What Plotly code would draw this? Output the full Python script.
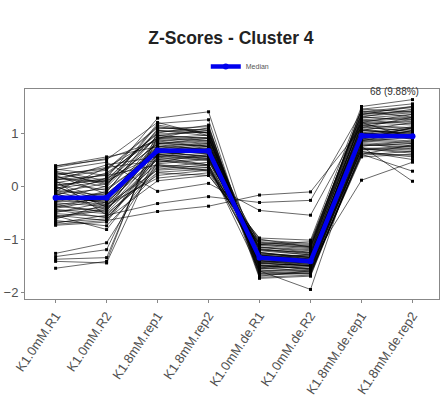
import plotly.graph_objects as go

categories = ["K1.0mM.R1", "K1.0mM.R2", "K1.8mM.rep1", "K1.8mM.rep2",
              "K1.0mM.de.R1", "K1.0mM.de.R2", "K1.8mM.de.rep1", "K1.8mM.de.rep2"]

profiles = [
    [-1.27, -1.07, 0.45, 0.52, -1.30, -1.38, 1.05, 1.00],
    [-1.33, -1.20, 0.80, 0.75, -1.45, -1.50, 1.30, 1.25],
    [-1.38, -1.35, 0.95, 0.90, -1.20, -1.25, 1.45, 1.40],
    [-1.42, -1.45, 0.62, 0.70, -1.10, -1.15, 1.20, 1.35],
    [-1.55, -1.42, 1.05, 1.00, -1.35, -1.40, 1.15, 1.10],
    [-0.72, -0.65, -0.48, -0.38, -0.17, -0.11, 1.10, 1.30],
    [0.10, -0.55, -0.33, -0.20, -0.31, -0.27, 1.40, 1.50],
    [0.30, 0.45, -0.10, 0.05, -0.46, -0.55, 1.20, 0.90],
    [-0.05, 0.10, 0.55, 0.40, -1.60, -1.95, 0.85, 1.05],
    [0.20, 0.35, 0.90, 1.10, -1.55, -1.50, 0.75, 0.09],
    [0.38, 0.50, 1.20, 0.95, -1.70, -1.60, 0.60, 0.28],
    [0.00, 0.15, 1.28, 1.40, -1.50, -1.45, 0.11, 0.45],
    [-0.22, -0.20, 0.67, 0.65, -1.35, -1.42, 0.95, 0.93],
    [0.25, 0.05, 0.80, 0.85, -1.50, -1.55, 0.70, 0.75],
    [-0.60, -0.45, 0.50, 0.55, -1.20, -1.30, 1.25, 1.30],
    [-0.10, -0.35, 0.30, 0.35, -1.10, -1.05, 1.35, 1.50],
    [0.15, 0.30, 1.10, 1.05, -1.65, -1.62, 0.55, 0.60],
    [-0.45, -0.60, 0.40, 0.30, -1.00, -1.15, 1.45, 1.55],
    [-0.30, -0.10, 0.95, 0.90, -1.40, -1.48, 0.85, 0.80],
    [0.05, -0.25, 0.70, 0.80, -1.55, -1.40, 1.00, 0.95],
    [-0.65, -0.75, 0.25, 0.20, -0.98, -1.02, 1.50, 1.63],
    [0.32, 0.20, 1.00, 1.15, -1.72, -1.68, 0.65, 0.55],
    [-0.15, -0.05, 0.60, 0.50, -1.30, -1.35, 1.10, 1.05],
    [-0.50, -0.30, 0.85, 0.75, -1.25, -1.38, 0.90, 1.10],
    [0.10, 0.40, 0.55, 0.70, -1.45, -1.50, 0.80, 0.70],
    [-0.35, -0.50, 0.45, 0.60, -1.15, -1.25, 1.20, 1.15],
    [-0.25, 0.00, 1.15, 1.00, -1.60, -1.55, 0.75, 0.85],
    [0.20, -0.15, 0.65, 0.55, -1.35, -1.30, 0.95, 1.00],
    [-0.70, -0.55, 0.35, 0.45, -1.05, -1.10, 1.35, 1.40],
    [-0.05, 0.25, 0.90, 0.85, -1.48, -1.58, 0.70, 0.65],
    [-0.40, -0.20, 0.75, 0.70, -1.30, -1.45, 1.00, 0.90],
    [0.00, -0.40, 0.20, 0.30, -1.15, -1.20, 1.30, 1.45],
    [-0.55, -0.65, 0.60, 0.65, -1.25, -1.35, 1.15, 1.25],
    [0.28, 0.10, 1.05, 0.95, -1.58, -1.62, 0.60, 0.78],
    [-0.20, -0.30, 0.50, 0.40, -1.28, -1.32, 1.05, 1.20],
    [-0.12, 0.05, 0.80, 0.90, -1.42, -1.45, 0.88, 0.82],
    [-0.48, -0.40, 0.70, 0.60, -1.18, -1.28, 1.12, 1.02],
    [0.12, 0.20, 0.40, 0.35, -1.38, -1.40, 0.98, 1.12],
    [-0.28, -0.12, 1.08, 1.12, -1.52, -1.48, 0.68, 0.72],
    [-0.62, -0.35, 0.15, 0.25, -1.08, -1.12, 1.42, 1.30],
    [0.08, -0.08, 0.62, 0.75, -1.40, -1.52, 0.92, 0.98],
    [-0.38, -0.48, 0.88, 0.80, -1.32, -1.38, 1.02, 0.88],
    [-0.18, 0.15, 0.58, 0.48, -1.45, -1.42, 0.90, 0.85],
    [0.18, -0.02, 0.95, 1.05, -1.62, -1.58, 0.72, 0.68],
    [-0.52, -0.58, 0.32, 0.40, -1.12, -1.18, 1.28, 1.35],
    [-0.08, -0.18, 0.72, 0.62, -1.36, -1.44, 0.96, 1.08],
    [-0.32, -0.38, 0.68, 0.72, -1.22, -1.30, 1.08, 0.96],
    [0.22, 0.32, 1.12, 1.00, -1.68, -1.65, 0.62, 0.58],
    [-0.42, -0.25, 0.52, 0.58, -1.26, -1.34, 1.18, 1.22],
    [-0.02, -0.28, 0.78, 0.68, -1.44, -1.40, 0.84, 0.92],
    [-0.68, -0.62, 0.10, 0.20, -1.02, -1.08, 1.38, 1.48],
    [0.35, 0.52, 0.85, 0.92, -1.74, -1.70, 0.65, 0.50],
    [-0.26, -0.15, 0.64, 0.55, -1.34, -1.36, 0.94, 1.04],
    [-0.58, -0.42, 0.42, 0.50, -1.16, -1.22, 1.22, 1.28],
    [0.02, 0.12, 1.02, 1.08, -1.56, -1.52, 0.78, 0.74],
    [-0.16, -0.32, 0.66, 0.78, -1.38, -1.46, 0.98, 0.90],
    [-0.44, -0.52, 0.26, 0.32, -1.06, -1.14, 1.32, 1.38],
    [0.14, 0.08, 0.92, 0.86, -1.50, -1.56, 0.82, 0.76],
    [-0.36, -0.22, 0.74, 0.66, -1.30, -1.40, 1.04, 1.00],
    [-0.10, 0.35, 0.48, 0.38, -1.42, -1.38, 0.88, 1.10],
    [-0.74, -0.68, 0.55, 0.62, -1.20, -1.26, 1.24, 1.18],
    [0.26, 0.02, 1.18, 1.25, -1.66, -1.64, 0.58, 0.66],
    [-0.24, -0.36, 0.82, 0.74, -1.32, -1.42, 1.06, 0.94],
    [-0.56, -0.82, 0.38, 0.28, -1.10, -1.16, 1.36, 1.42],
    [0.06, 0.22, 0.98, 1.02, -1.54, -1.60, 0.76, 0.80],
    [-0.14, -0.45, 0.60, 0.52, -1.28, -1.34, 1.14, 1.08],
    [0.38, 0.55, 0.74, 0.82, -1.62, -1.66, 0.70, 0.62],
    [-0.30, -0.26, 0.90, 0.96, -1.46, -1.50, 0.86, 0.95],
]

median = [-0.22, -0.22, 0.67, 0.66, -1.35, -1.42, 0.95, 0.94]

cluster_label = "68 (9.88%)"
y_ticks = [-2, -1, 0, 1]

xs, ys = [], []
for row in profiles:
    xs.extend(categories + [None])
    ys.extend(row + [None])

fig = go.Figure()
fig.add_trace(go.Scatter(
    x=xs, y=ys, mode="lines+markers", connectgaps=False,
    line=dict(color="black", width=0.6),
    marker=dict(color="black", size=3, symbol="square"),
    showlegend=False, hoverinfo="skip"))
fig.add_trace(go.Scatter(
    x=categories, y=median, mode="lines+markers", name="Median",
    line=dict(color="#0000ee", width=4.5),
    marker=dict(color="#0000ee", size=6)))

fig.add_annotation(x=1, xref="paper", xanchor="right", xshift=-18,
                   y=1, yref="paper", yanchor="middle", yshift=-2,
                   text=cluster_label, showarrow=False,
                   font=dict(size=10, color="#333333"))

fig.update_layout(
    width=444, height=401,
    margin=dict(l=21, r=4, t=89, b=98),
    paper_bgcolor="white", plot_bgcolor="white",
    font=dict(family="Liberation Sans, Arial, sans-serif", color="#555555"),
    title=dict(text="<b>Z-Scores - Cluster 4</b>", x=0.52, xanchor="center",
               y=0.905, yanchor="middle",
               font=dict(size=17.5, color="#222222")),
    legend=dict(orientation="h", x=0.52, xanchor="center", y=1.107,
                yanchor="middle", font=dict(size=7, color="#555555"),
                itemwidth=30, bgcolor="rgba(0,0,0,0)"),
    xaxis=dict(type="category", categoryorder="array", categoryarray=categories,
               range=[-0.6, 7.52], showgrid=False, zeroline=False,
               showline=True, linecolor="#888888", linewidth=1, mirror=True,
               ticks="outside", ticklen=3, tickcolor="#888888",
               tickangle=-56, tickfont=dict(size=13, color="#505050")),
    yaxis=dict(range=[-2.13, 1.83], tickvals=y_ticks, showgrid=False,
               zeroline=False, showline=True, linecolor="#888888", linewidth=1,
               mirror=True, ticks="outside", ticklen=3, tickcolor="#888888",
               tickfont=dict(size=13, color="#505050")),
)

fig.write_html("out.html")
